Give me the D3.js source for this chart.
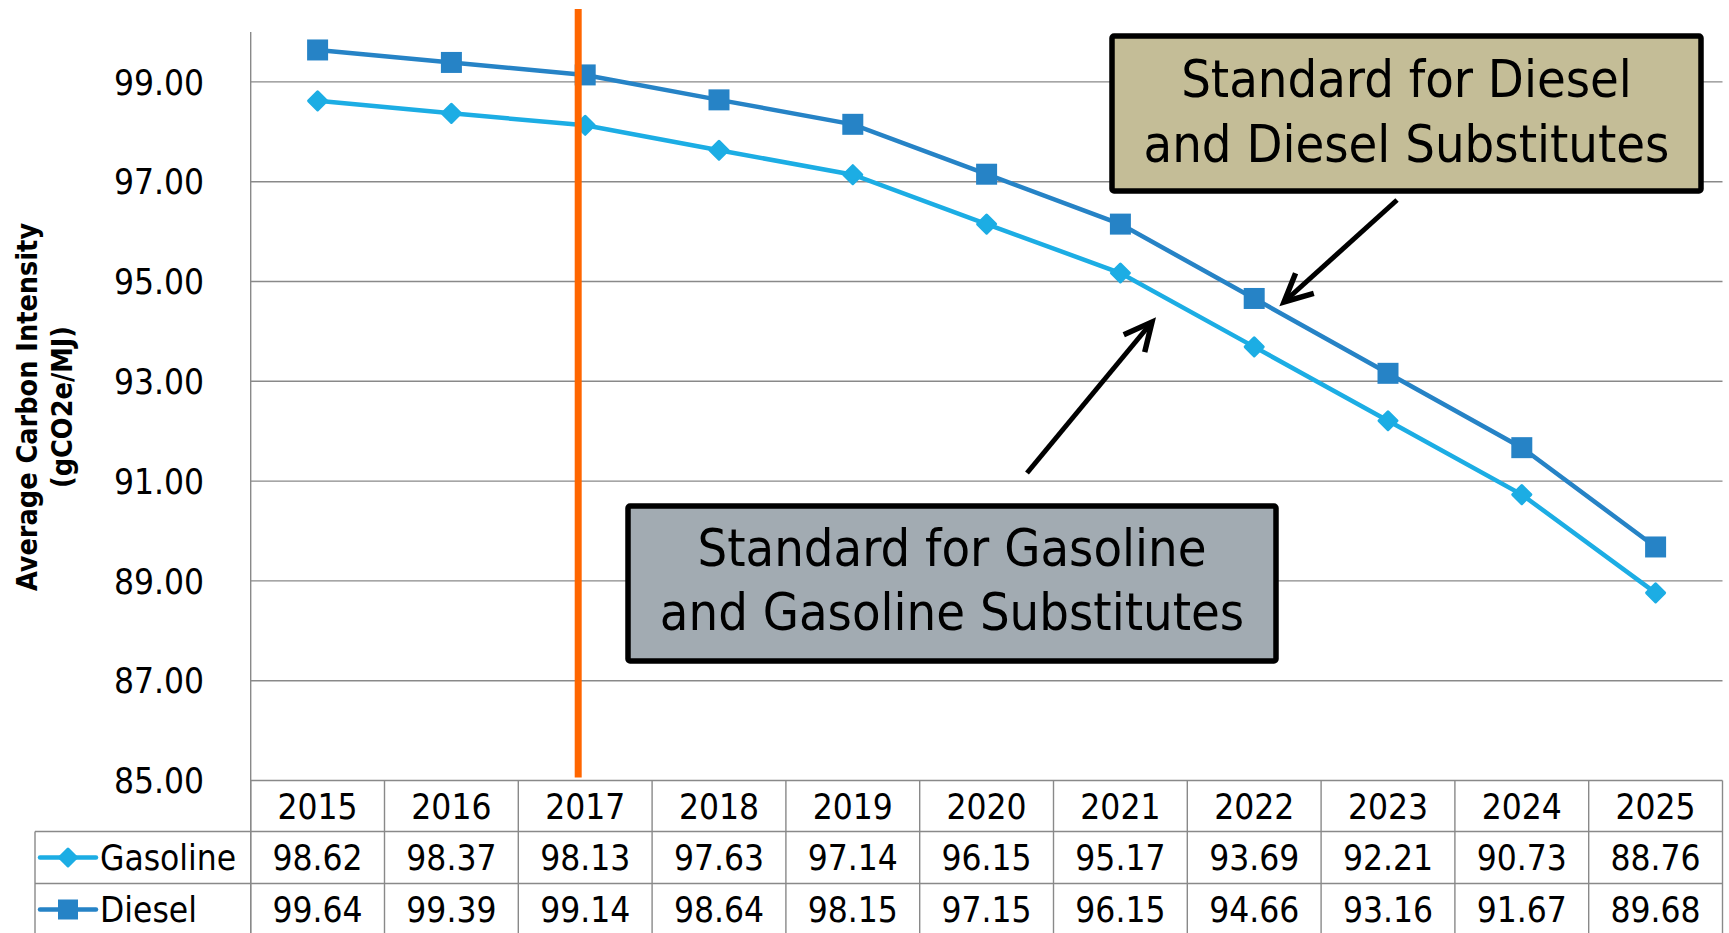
<!DOCTYPE html>
<html lang="en">
<head>
<meta charset="utf-8">
<title>Average Carbon Intensity</title>
<style type="text/css">
	html, body {
		margin: 0;
		padding: 0;
		background: white;
	}
	text {
		font-family: "DejaVu Sans Condensed", "DejaVu Sans", sans-serif;
		font-stretch: condensed;
		fill: black;
	}
	.grid, .cell {
		stroke: #898989;
		stroke-width: 1.4px;
	}
</style>
</head>
<body>
<div id="chart"></div>
<script src="https://d3js.org/d3.v7.min.js"></script>
<script type="text/javascript">
// values
var years = ["2015", "2016", "2017", "2018", "2019", "2020", "2021", "2022", "2023", "2024", "2025"];
var gasoline = [98.62, 98.37, 98.13, 97.63, 97.14, 96.15, 95.17, 93.69, 92.21, 90.73, 88.76];
var diesel = [99.64, 99.39, 99.14, 98.64, 98.15, 97.15, 96.15, 94.66, 93.16, 91.67, 89.68];
var yTicks = [85, 87, 89, 91, 93, 95, 97, 99];
var markerYear = "2017";

var width = 1729, height = 933;
var plotLeft = 250.7, plotRight = 1722.5, plotTop = 32, plotBottom = 780.5;
var legendLeft = 35;
var rowH = [51, 52, 52];

var x = d3.scaleBand().domain(years).range([plotLeft, plotRight]).padding(0);
var y = d3.scaleLinear().domain([85, 100]).range([plotBottom, plotTop]);
var cx = function (d) { return x(d) + x.bandwidth() / 2; };

var svg = d3.select("#chart")
	.append("svg")
	.attr("width", width)
	.attr("height", height);

// gridlines
svg.append("g")
	.selectAll("line")
	.data(yTicks)
	.enter()
	.append("line")
	.attr("class", "grid")
	.attr("x1", plotLeft)
	.attr("x2", plotRight)
	.attr("y1", function (d) { return y(d); })
	.attr("y2", function (d) { return y(d); });

svg.append("line")
	.attr("class", "grid")
	.attr("x1", plotLeft).attr("x2", plotLeft)
	.attr("y1", y(100)).attr("y2", height + 5);

// y tick labels
svg.append("g")
	.selectAll("text")
	.data(yTicks)
	.enter()
	.append("text")
	.attr("x", 204)
	.attr("y", function (d) { return y(d); })
	.attr("dy", "0.36em")
	.attr("text-anchor", "end")
	.style("font-size", "35px")
	.text(function (d) { return d3.format(".2f")(d); });

// y axis title
var titleLines = ["Average Carbon Intensity", "(gCO2e/MJ)"];
svg.append("g")
	.selectAll("text")
	.data(titleLines)
	.enter()
	.append("text")
	.attr("transform", function (d, i) { return "translate(" + (37 + i * 35) + "," + 407 + ") rotate(-90)"; })
	.attr("text-anchor", "middle")
	.style("font-size", "28.5px")
	.style("font-weight", "bold")
	.text(function (d) { return d; });

// table under the plot
var rowTop = [plotBottom, plotBottom + rowH[0], plotBottom + rowH[0] + rowH[1]];
var tableBottom = rowTop[2] + rowH[2];
var table = svg.append("g");

table.selectAll(".hline")
	.data([1, 2])
	.enter()
	.append("line")
	.attr("class", "cell")
	.attr("x1", legendLeft).attr("x2", plotRight)
	.attr("y1", function (d) { return rowTop[d]; })
	.attr("y2", function (d) { return rowTop[d]; });

table.selectAll(".vline")
	.data(years.concat(["end"]))
	.enter()
	.append("line")
	.attr("class", "cell")
	.attr("x1", function (d) { return d === "end" ? plotRight : x(d); })
	.attr("x2", function (d) { return d === "end" ? plotRight : x(d); })
	.attr("y1", plotBottom)
	.attr("y2", tableBottom);

table.append("line")
	.attr("class", "cell")
	.attr("x1", legendLeft).attr("x2", legendLeft)
	.attr("y1", rowTop[1]).attr("y2", tableBottom);

var rows = [
	{name: "Gasoline", values: gasoline, color: "#1CADE4", shape: "diamond"},
	{name: "Diesel", values: diesel, color: "#2683C6", shape: "square"}
];

table.selectAll(".year")
	.data(years)
	.enter()
	.append("text")
	.attr("x", cx)
	.attr("y", rowTop[0] + rowH[0] / 2)
	.attr("dy", "0.37em")
	.attr("text-anchor", "middle")
	.style("font-size", "35px")
	.text(function (d) { return d; });

function shapePath(shape, s) {
	if (shape === "diamond")
		return "M0," + (-s) + "L" + s + ",0L0," + s + "L" + (-s) + ",0Z";
	return "M" + (-s) + "," + (-s) + "H" + s + "V" + s + "H" + (-s) + "Z";
}

// diamonds get a round-joined outline so their corners look soft
function drawMark(sel, r, s) {
	sel.attr("d", shapePath(r.shape, r.shape === "diamond" ? s - 1.5 : s))
		.attr("fill", r.color)
		.attr("stroke", r.shape === "diamond" ? r.color : "none")
		.attr("stroke-width", 3)
		.attr("stroke-linejoin", "round");
}

rows.forEach(function (r, ri) {
	var mid = rowTop[ri + 1] + rowH[ri + 1] / 2;
	table.append("g")
		.selectAll("text")
		.data(r.values)
		.enter()
		.append("text")
		.attr("x", function (d, i) { return cx(years[i]); })
		.attr("y", mid)
		.attr("dy", "0.37em")
		.attr("text-anchor", "middle")
		.style("font-size", "35px")
		.text(function (d) { return d3.format(".2f")(d); });

	// legend key
	table.append("line")
		.attr("x1", 40).attr("x2", 96)
		.attr("y1", mid).attr("y2", mid)
		.attr("stroke", r.color)
		.attr("stroke-width", 4.5)
		.attr("stroke-linecap", "round");
	table.append("path")
		.attr("transform", "translate(68," + mid + ")")
		.call(drawMark, r, 10);
	table.append("text")
		.attr("x", 100)
		.attr("y", mid)
		.attr("dy", "0.37em")
		.style("font-size", "35px")
		.text(r.name);
});

// series
var line = d3.line()
	.x(function (d, i) { return cx(years[i]); })
	.y(function (d) { return y(d); });

rows.forEach(function (r) {
	var g = svg.append("g");
	g.append("path")
		.datum(r.values)
		.attr("d", line)
		.attr("fill", "none")
		.attr("stroke", r.color)
		.attr("stroke-width", 4.5);
	g.selectAll("path.mark")
		.data(r.values)
		.enter()
		.append("path")
		.attr("class", "mark")
		.attr("transform", function (d, i) { return "translate(" + cx(years[i]) + "," + y(d) + ")"; })
		.call(drawMark, r, 10.5);
});

// orange marker line, a little left of the 2017 point
svg.append("line")
	.attr("x1", cx(markerYear) - 7).attr("x2", cx(markerYear) - 7)
	.attr("y1", 9).attr("y2", plotBottom - 3)
	.attr("stroke", "#FF6600")
	.attr("stroke-width", 7);

// callout boxes
var callouts = [
	{lines: ["Standard for Diesel", "and Diesel Substitutes"], fill: "#C4BD97",
	 box: [1112, 36, 589, 155], base: [97, 162], arrow: [1397, 200, 1284, 302]},
	{lines: ["Standard for Gasoline", "and Gasoline Substitutes"], fill: "#A2ABB2",
	 box: [628, 506, 648, 155], base: [566, 630], arrow: [1027, 473, 1152, 322]}
];

callouts.forEach(function (c) {
	var g = svg.append("g");
	g.append("rect")
		.attr("x", c.box[0]).attr("y", c.box[1])
		.attr("width", c.box[2]).attr("height", c.box[3])
		.attr("rx", 2)
		.attr("fill", c.fill)
		.attr("stroke", "black")
		.attr("stroke-width", 5.5);
	g.selectAll("text")
		.data(c.lines)
		.enter()
		.append("text")
		.attr("x", c.box[0] + c.box[2] / 2)
		.attr("y", function (d, i) { return c.base[i]; })
		.attr("text-anchor", "middle")
		.style("font-size", "52px")
		.text(function (d) { return d; });

	var a = c.arrow;
	var ang = Math.atan2(a[1] - a[3], a[0] - a[2]);
	var len = 31, spread = 26 * Math.PI / 180;
	var head = "M" + (a[2] + len * Math.cos(ang - spread)) + "," + (a[3] + len * Math.sin(ang - spread)) +
		"L" + a[2] + "," + a[3] +
		"L" + (a[2] + len * Math.cos(ang + spread)) + "," + (a[3] + len * Math.sin(ang + spread));
	g.append("line")
		.attr("x1", a[0]).attr("y1", a[1])
		.attr("x2", a[2]).attr("y2", a[3])
		.attr("stroke", "black")
		.attr("stroke-width", 5);
	g.append("path")
		.attr("d", head)
		.attr("fill", "none")
		.attr("stroke", "black")
		.attr("stroke-width", 5.5)
		.attr("stroke-linejoin", "miter");
});
</script>
</body>
</html>
